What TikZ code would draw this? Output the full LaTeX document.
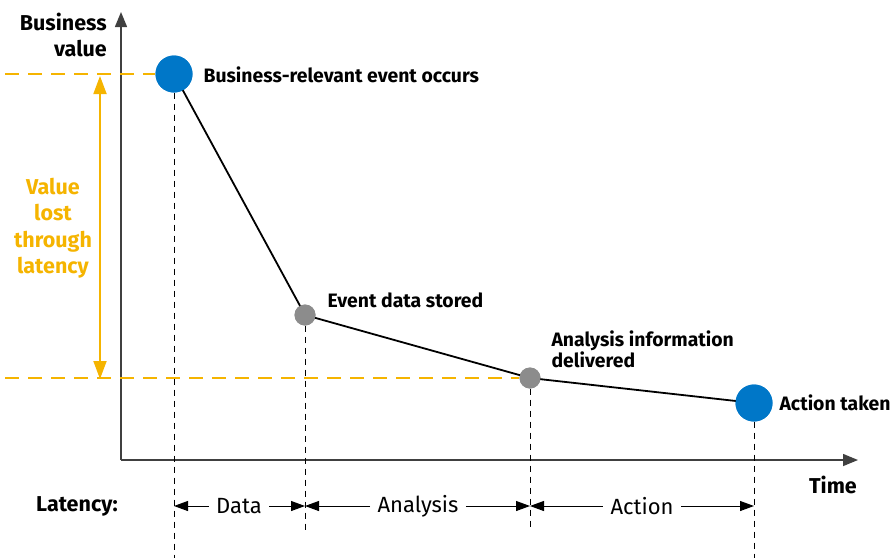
\documentclass[tikz,border=0pt]{standalone}
\usepackage{fontspec}
\setmainfont{Fira Sans}
\usetikzlibrary{arrows.meta}
\definecolor{sapblue}{HTML}{0077C8}
\definecolor{evgray}{HTML}{8C8C8C}
\definecolor{lossorange}{HTML}{F5B400}
\definecolor{axisgray}{HTML}{404040}

\begin{document}
\begin{tikzpicture}[x=1pt,y=-1pt,
  bigevent/.style={circle,fill=sapblue,inner sep=0,minimum size=37pt},
  smallevent/.style={circle,fill=evgray,inner sep=0,minimum size=21pt},
  evlabel/.style={anchor=west,font=\fontsize{19.4}{21}\selectfont\bfseries,align=left},
  axis/.style={-{Triangle[length=15pt,width=12pt]},line width=1.4pt,draw=axisgray},
  guide/.style={densely dashed,dash pattern=on 6pt off 5pt,line width=0.9pt},
  lossline/.style={draw=lossorange,line width=1.8pt,dash pattern=on 14pt off 9pt},
  latarrow/.style={-{Triangle[length=14pt,width=10pt]},line width=1pt},
  node font=\fontsize{22}{26}\selectfont]

\useasboundingbox (0,0) rectangle (891,558);

% axes
\coordinate (origin) at (121,460);
\coordinate (yTop) at (121,12);
\coordinate (xEnd) at (858,460);
\draw[axis] (origin) -- (yTop);
\draw[axis] (origin) -- (xEnd);
\node[anchor=east,align=right,inner sep=0,font=\fontsize{21.5}{26}\selectfont\bfseries] (yLabel) at (107,35) {Business\\value};
\node[anchor=east,inner sep=0,font=\fontsize{21.5}{26}\selectfont\bfseries] (xLabel) at (857,485) {Time};

% events
\node[bigevent]   (evOccurs)  at (174,74)  {};
\node[smallevent] (evStored)  at (305,315) {};
\node[smallevent] (evDeliver) at (530,378) {};
\node[bigevent]   (evAction)  at (754,403) {};

% loss markers
\coordinate (lossTopL) at (5,74);
\coordinate (lossBotL) at (5,378);
\draw[lossline] (lossTopL) -- (evOccurs.west);
\draw[lossline] (lossBotL) -- (evDeliver.west);
\coordinate (lossTop) at (100,76);
\coordinate (lossBot) at (100,379);
\draw[{Triangle[length=18pt,width=13pt]}-{Triangle[length=18pt,width=13pt]},draw=lossorange,fill=lossorange,line width=1.8pt] (lossTop) -- (lossBot);
\node[text=lossorange,align=center,font=\fontsize{21.5}{26.5}\selectfont\bfseries] (lossText) at (53,228) {Value\\lost\\through\\latency};

% guides down to the latency row
\coordinate (gOccurs)  at (174,558);
\coordinate (gStored)  at (305,530);
\coordinate (gDeliver) at (530,530);
\coordinate (gAction)  at (754,558);
\draw[guide] (evOccurs.south)  -- (gOccurs);
\draw[guide] (evStored.south)  -- (gStored);
\draw[guide] (evDeliver.south) -- (gDeliver);
\draw[guide] (evAction.south)  -- (gAction);

\draw[line width=1.8pt] (evOccurs.center) -- (evStored.center) -- (evDeliver.center) -- (evAction.center);
\node[bigevent]   at (evOccurs)  {};
\node[smallevent] at (evStored)  {};
\node[smallevent] at (evDeliver) {};
\node[bigevent]   at (evAction)  {};

\node[evlabel] (lblOccurs)  at (196,75)  {Business-relevant event occurs};
\node[evlabel] (lblStored)  at (320,300) {Event data stored};
\node[evlabel] (lblDeliver) at (544,349) {Analysis information\\delivered};
\node[evlabel] (lblAction)  at (772,403) {Action taken};

% latency row
\node[anchor=west,inner sep=0,font=\fontsize{21.5}{26}\selectfont\bfseries] (latLabel) at (36,506) {Latency:};
\coordinate (tOccurs)  at (174,506);
\coordinate (tStored)  at (305,506);
\coordinate (tDeliver) at (530,506);
\coordinate (tAction)  at (754,506);
\node (latData)     at (239,506) {Data};
\node (latAnalysis) at (418,506) {Analysis};
\node (latAction)   at (642,506) {Action};
\draw[latarrow] (latData.west) -- (tOccurs);
\draw[latarrow] (latData.east) -- (tStored);
\draw[latarrow] (latAnalysis.west) -- (tStored);
\draw[latarrow] (latAnalysis.east) -- (tDeliver);
\draw[latarrow] (latAction.west) -- (tDeliver);
\draw[latarrow] (latAction.east) -- (tAction);
\end{tikzpicture}
\end{document}
